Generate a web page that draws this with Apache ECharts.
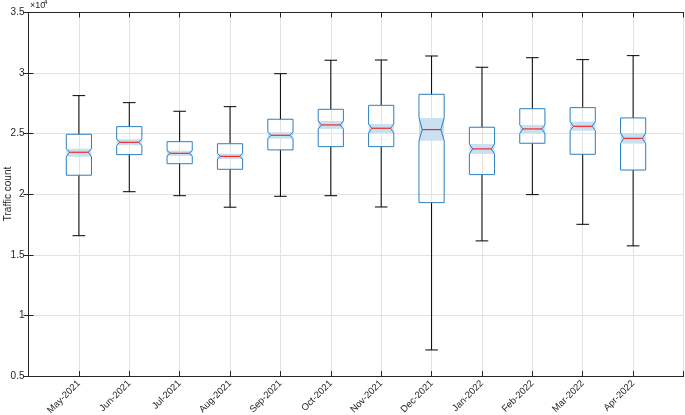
<!DOCTYPE html>
<html><head><meta charset="utf-8">
<script src="https://cdn.jsdelivr.net/npm/echarts@6/dist/echarts.min.js"></script>
<style>html,body{margin:0;padding:0;background:#fff}#c{width:685px;height:415px}</style>
</head><body><div id="c"></div>
<script>
const categories = ['May-2021','Jun-2021','Jul-2021','Aug-2021','Sep-2021','Oct-2021','Nov-2021','Dec-2021','Jan-2022','Feb-2022','Mar-2022','Apr-2022'];
const lowerWhisker = [16580, 20210, 19880, 18930, 19830, 19880, 18950, 7150, 16150, 19970, 17520, 15740];
const q1 =           [21570, 23270, 22520, 22060, 23660, 23930, 23930, 19310, 21620, 24210, 23300, 22000];
const notchLow =     [23100, 24040, 23160, 22910, 24590, 25390, 25060, 24420, 23330, 25030, 25250, 24180];
const median =       [23470, 24290, 23380, 23130, 24870, 25720, 25450, 25330, 23740, 25390, 25610, 24620];
const notchHigh =    [23760, 24540, 23600, 23350, 25120, 26050, 25800, 26300, 24150, 25720, 25990, 25060];
const q3 =           [24950, 25580, 24340, 24170, 26190, 27010, 27340, 28250, 25530, 27060, 27150, 26300];
const upperWhisker = [28140, 27560, 26850, 27230, 29950, 31060, 31080, 31410, 30480, 31270, 31110, 31440];
const yTicks = [5000, 10000, 15000, 20000, 25000, 30000, 35000];

const boxData = categories.map((c, i) => [i + 1, lowerWhisker[i], q1[i], notchLow[i], median[i], notchHigh[i], q3[i], upperWhisker[i]]);

const AX = '#262626', GRID = '#e3e3e3', FONT = 'Liberation Sans, Arial, Helvetica, sans-serif';
const BLUE = '#2b7fc2', BAND = '#c9e0f1', RED = '#ff0000';

function renderItem(params, api) {
  const x = api.value(0);
  const lw = api.value(1), b1 = api.value(2), nl = api.value(3), md = api.value(4), nh = api.value(5), b3 = api.value(6), uw = api.value(7);
  const P = (dx, v) => api.coord([x + dx, v]);
  const hw = 0.25, nw = 0.185, cw = 0.125;
  const line = (a, b, color) => ({ type: 'line', shape: { x1: a[0], y1: a[1], x2: b[0], y2: b[1] }, style: { stroke: color, lineWidth: 1 } });
  return {
    type: 'group',
    children: [
      line(P(0, b3), P(0, uw), '#000'),
      line(P(-cw, uw), P(cw, uw), '#000'),
      line(P(0, b1), P(0, lw), '#000'),
      line(P(-cw, lw), P(cw, lw), '#000'),
      { type: 'polygon', shape: { points: [P(-hw, nl), P(hw, nl), P(hw, nh), P(-hw, nh)] }, style: { fill: BAND } },
      { type: 'polygon', shape: { points: [P(-hw, b1), P(hw, b1), P(hw, nl), P(nw, md), P(hw, nh), P(hw, b3), P(-hw, b3), P(-hw, nh), P(-nw, md), P(-hw, nl)] },
        style: { fill: 'none', stroke: BLUE, lineWidth: 1 } },
      line(P(-nw, md), P(nw, md), RED)
    ]
  };
}

const chart = echarts.init(document.getElementById('c'), null, { renderer: 'canvas' });
chart.setOption({
  animation: false,
  backgroundColor: '#fff',
  grid: { left: 28.5, right: 1.5, top: 12.5, bottom: 39, containLabel: false, outerBoundsMode: 'none' },
  graphic: [
    { type: 'text', left: 30, top: 1, style: { text: '×10', fontSize: 9, fill: AX, fontFamily: FONT } },
    { type: 'text', left: 44, top: -1, style: { text: '4', fontSize: 6.5, fill: AX, fontFamily: FONT } },
    { type: 'text', x: 8, y: 194, rotation: Math.PI / 2, style: { text: 'Traffic count', fontSize: 10, fill: AX, fontFamily: FONT, align: 'center', verticalAlign: 'middle' } }
  ],
  xAxis: [
    { type: 'value', min: 0, max: 13, interval: 1, position: 'bottom',
      axisLine: { show: true, lineStyle: { color: AX, width: 1 } },
      axisTick: { show: true, inside: true, length: 5, lineStyle: { color: AX } },
      axisLabel: { rotate: 45, fontSize: 9.5, color: AX, fontFamily: FONT, margin: 6,
        formatter: v => categories[v - 1] || '' },
      splitLine: { show: true, lineStyle: { color: GRID, width: 1 } } },
    { type: 'value', min: 0, max: 13, interval: 1, position: 'top',
      axisLine: { show: true, lineStyle: { color: AX, width: 1 } },
      axisTick: { show: true, inside: true, length: 5, lineStyle: { color: AX } },
      axisLabel: { show: false }, splitLine: { show: false } }
  ],
  yAxis: [
    { type: 'value', min: yTicks[0], max: yTicks[yTicks.length - 1], interval: 5000, position: 'left',
      axisLine: { show: true, lineStyle: { color: AX, width: 1 } },
      axisTick: { show: true, inside: true, length: 5, lineStyle: { color: AX } },
      axisLabel: { fontSize: 10, color: AX, fontFamily: FONT, margin: 4, formatter: v => String(v / 10000) },
      splitLine: { show: true, lineStyle: { color: GRID, width: 1 } } },
    { type: 'value', min: yTicks[0], max: yTicks[yTicks.length - 1], interval: 5000, position: 'right',
      axisLine: { show: true, lineStyle: { color: AX, width: 1 } },
      axisTick: { show: true, inside: true, length: 5, lineStyle: { color: AX } },
      axisLabel: { show: false }, splitLine: { show: false } }
  ],
  series: [{
    type: 'custom', coordinateSystem: 'cartesian2d', xAxisIndex: 0, yAxisIndex: 0,
    renderItem: renderItem,
    encode: { x: 0, y: [1, 2, 3, 4, 5, 6, 7] },
    data: boxData,
    z: 5
  }]
});
</script>
</body></html>
